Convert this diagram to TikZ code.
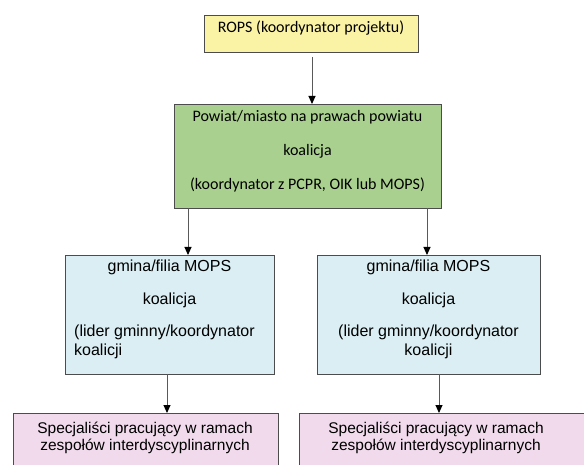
\documentclass[tikz,border=0pt]{standalone}
\usepackage{fontspec}
\setmainfont{Liberation Sans}
\newfontfamily\calfont{Carlito}
\usetikzlibrary{arrows.meta}
\definecolor{ropsyellow}{RGB}{250,242,165}
\definecolor{powgreen}{RGB}{169,208,142}
\definecolor{gmblue}{RGB}{218,238,243}
\definecolor{specpink}{RGB}{240,218,236}
\begin{document}
\begin{tikzpicture}[x=1pt,y=-1pt,
  box/.style={draw=black!70, line width=0.8pt, inner sep=0pt, outer sep=0pt},
  arr/.style={draw=black!65, line width=0.9pt, -{Triangle[length=8pt,width=7pt,color=black]}},
  cal/.style={font=\calfont\fontsize{16}{19}\selectfont, anchor=base, inner sep=0pt},
  ari/.style={font=\fontsize{15.5}{18}\selectfont, anchor=base, inner sep=0pt},
  arib/.style={font=\fontsize{16}{19}\selectfont, anchor=base, inner sep=0pt}]
\clip (0,0) rectangle (584,465);
% boxes
\node[box, fill=ropsyellow, minimum width=214pt, minimum height=37pt] (rops) at (311,33.5) {};
\node[box, fill=powgreen, minimum width=267pt, minimum height=104pt] (green) at (307.5,156) {};
\node[box, fill=gmblue, minimum width=209pt, minimum height=119pt] (bl) at (169.5,314.5) {};
\node[box, fill=gmblue, minimum width=223pt, minimum height=119pt] (br) at (428.5,314.5) {};
\node[box, fill=specpink, minimum width=265pt, minimum height=67pt] (pl) at (145.5,446.5) {};
\node[box, fill=specpink, minimum width=301pt, minimum height=67pt] (pr) at (449.5,446.5) {};
% texts
\node[cal] (t0) at (311,33) {ROPS (koordynator projektu)};
\node[cal] (g1) at (307.5,122) {Powiat/miasto na prawach powiatu};
\node[cal] (g2) at (307.5,156) {koalicja};
\node[cal] (g3) at (307.5,190) {(koordynator z PCPR, OIK lub MOPS)};
\node[arib] (bl1) at (169.5,272) {gmina/filia MOPS};
\node[arib] (bl2) at (169.5,305) {koalicja};
\node[arib, anchor=base west] (bl3) at (74,337) {(lider gminny/koordynator};
\node[arib, anchor=base west] (bl4) at (74,355) {koalicji};
\node[arib] (br1) at (428.5,272) {gmina/filia MOPS};
\node[arib] (br2) at (428.5,305) {koalicja};
\node[arib] (br3) at (428.5,337) {(lider gminny/koordynator};
\node[arib] (br4) at (428.5,355) {koalicji};
\node[ari] (pl1) at (145,433) {Specjaliści pracujący w ramach};
\node[ari] (pl2) at (145,450) {zespołów interdyscyplinarnych};
\node[ari] (pr1) at (436,433) {Specjaliści pracujący w ramach};
\node[ari] (pr2) at (436,450) {zespołów interdyscyplinarnych};
% arrow columns
\coordinate (a0) at (312,0);
\coordinate (a1) at (188,0);
\coordinate (a2) at (427,0);
\coordinate (a3) at (167,0);
\coordinate (a4) at (439,0);
\draw[arr, shorten <=5pt] (rops.south -| a0) -- (green.north -| a0);
\draw[arr] (green.south -| a1) -- (bl.north -| a1);
\draw[arr] (green.south -| a2) -- (br.north -| a2);
\draw[arr] (bl.south -| a3) -- (pl.north -| a3);
\draw[arr] (br.south -| a4) -- (pr.north -| a4);
\end{tikzpicture}
\end{document}
